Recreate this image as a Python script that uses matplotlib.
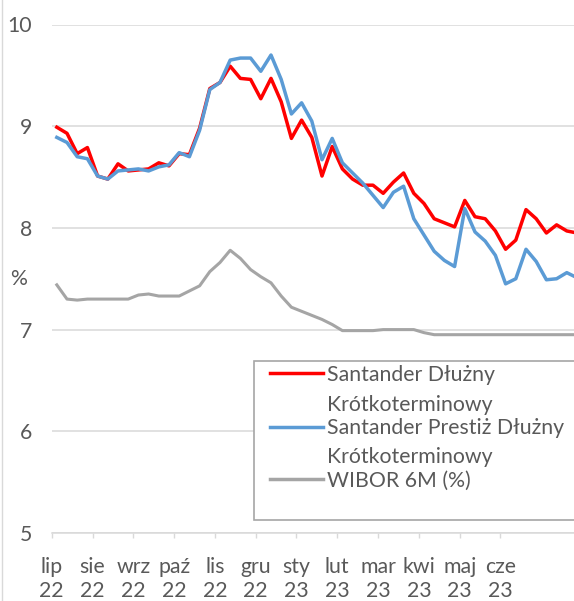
import matplotlib
matplotlib.use("Agg")
import matplotlib.pyplot as plt
from matplotlib.lines import Line2D
from matplotlib.patches import Rectangle
import numpy as np

plt.rcParams['font.family'] = ['Lato', 'DejaVu Sans']

# ---- data ----
month_labels = ["lip\n22", "sie\n22", "wrz\n22", "paź\n22", "lis\n22", "gru\n22",
                "sty\n23", "lut\n23", "mar\n23", "kwi\n23", "maj\n23", "cze\n23"]

santander_dluzny = [8.99, 8.93, 8.73, 8.79, 8.51, 8.48, 8.63, 8.56, 8.57, 8.58,
                    8.64, 8.61, 8.73, 8.72, 8.98, 9.37, 9.43, 9.59, 9.47, 9.46,
                    9.27, 9.47, 9.24, 8.88, 9.06, 8.89, 8.51, 8.80, 8.58, 8.48,
                    8.42, 8.42, 8.34, 8.45, 8.54, 8.34, 8.24, 8.09, 8.05, 8.01,
                    8.27, 8.11, 8.09, 7.97, 7.79, 7.88, 8.18, 8.09, 7.95, 8.03,
                    7.97, 7.95]

santander_prestiz = [8.89, 8.84, 8.70, 8.68, 8.51, 8.48, 8.56, 8.57, 8.58, 8.56,
                     8.60, 8.62, 8.74, 8.70, 8.96, 9.36, 9.43, 9.65, 9.67, 9.67,
                     9.54, 9.70, 9.46, 9.12, 9.23, 9.05, 8.67, 8.88, 8.64, 8.54,
                     8.44, 8.32, 8.20, 8.35, 8.41, 8.09, 7.93, 7.77, 7.68, 7.62,
                     8.19, 7.96, 7.87, 7.73, 7.45, 7.50, 7.79, 7.67, 7.49, 7.50,
                     7.56, 7.51]

wibor_6m = [7.44, 7.30, 7.29, 7.30, 7.30, 7.30, 7.30, 7.30, 7.34, 7.35,
            7.33, 7.33, 7.33, 7.38, 7.43, 7.57, 7.66, 7.78, 7.70, 7.59,
            7.52, 7.46, 7.33, 7.22, 7.18, 7.14, 7.10, 7.05, 6.99, 6.99,
            6.99, 6.99, 7.00, 7.00, 7.00, 7.00, 6.97, 6.95, 6.95, 6.95,
            6.95, 6.95, 6.95, 6.95, 6.95, 6.95, 6.95, 6.95, 6.95, 6.95,
            6.95, 6.95]

series_names = ["Santander Dłużny\nKrótkoterminowy",
                "Santander Prestiż Dłużny\nKrótkoterminowy",
                "WIBOR 6M (%)"]
y_ticks = [5, 6, 7, 8, 9, 10]

# ---- styling ----
RED = "#FF0000"
BLUE = "#5B9BD5"
GRAY = "#A5A5A5"
GRID = "#D9D9D9"
TXT = "#595959"
FS = 15.3

W, H = 574, 601
fig = plt.figure(figsize=(W / 100, H / 100), dpi=100)

def fx(px):
    return px / W

def fy(py):
    return 1 - py / H

ax_left_px, ax_top_px, ax_bot_px = 51.7, 24.5, 533.0
ax = fig.add_axes([fx(ax_left_px), fy(ax_bot_px), 1 - fx(ax_left_px),
                   (ax_bot_px - ax_top_px) / H])

spacing = 10.2
first_px = 56.8
x = np.arange(len(santander_dluzny))
ax.set_xlim(-(first_px - ax_left_px) / spacing, (W - first_px) / spacing)
ax.set_ylim(5, 10)

ax.plot(x, wibor_6m, color=GRAY, lw=2.2, solid_joinstyle='round', zorder=3)
ax.plot(x, santander_dluzny, color=RED, lw=2.5, solid_joinstyle='round', zorder=4)
ax.plot(x, santander_prestiz, color=BLUE, lw=2.5, solid_joinstyle='round', zorder=5)

ax.set_yticks(y_ticks)
ax.set_yticklabels([str(v) for v in y_ticks])
ax.yaxis.grid(True, color=GRID, lw=1.1)
ax.set_axisbelow(True)

ax.set_xticks([-0.5 + 4 * k for k in range(len(month_labels))])
ax.set_xticklabels(month_labels, linespacing=1.21)

for s in ['top', 'right', 'left']:
    ax.spines[s].set_visible(False)
ax.spines['bottom'].set_color(GRID)
ax.spines['bottom'].set_linewidth(1.1)

ax.tick_params(axis='x', length=3.6, width=1, color=GRID, labelcolor=TXT,
               labelsize=FS, pad=14)
ax.tick_params(axis='y', length=0, labelcolor=TXT, labelsize=FS, pad=14)

fig.text(fx(18.7), fy(279), "%", ha='center', va='center', color=TXT, fontsize=FS)

# faint chart border on the left
fig.add_artist(Line2D([fx(2), fx(2)], [0, 1], transform=fig.transFigure,
                      color=GRID, lw=1))

# ---- legend (drawn manually to mirror the wrapped Excel legend) ----
rect = Rectangle((fx(254), fy(520)), 1.2 - fx(254), (520 - 361) / H,
                 transform=fig.transFigure, facecolor='white',
                 edgecolor='#A6A6A6', lw=1.2, zorder=10, clip_on=False)
fig.add_artist(rect)

entries = [(RED, 373.3, [380.7, 410.7]),
           (BLUE, 426.7, [434.0, 463.0]),
           (GRAY, 479.3, [486.7])]
for (col, ly, baselines), name in zip(entries, series_names):
    fig.add_artist(Line2D([fx(270), fx(323)], [fy(ly), fy(ly)],
                          transform=fig.transFigure, color=col, lw=2.5,
                          zorder=11))
    for line_txt, b in zip(name.split("\n"), baselines):
        fig.text(fx(327.3), fy(b), line_txt, ha='left', va='baseline',
                 color=TXT, fontsize=FS, zorder=11)

fig.savefig("out.png", dpi=100)
